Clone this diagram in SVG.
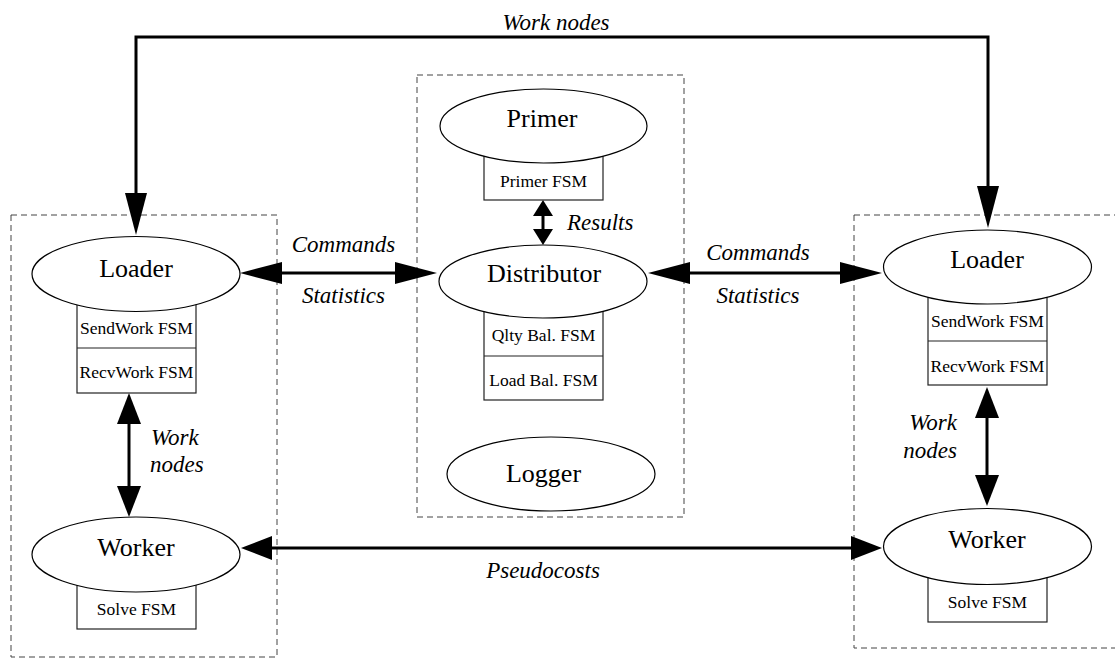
<svg xmlns="http://www.w3.org/2000/svg" width="1115" height="660" viewBox="0 0 1115 660">
  <style>
    .cluster { fill: none; stroke: #444; stroke-width: 1; stroke-dasharray: 6 4; }
    .proc { fill: #fff; stroke: #000; stroke-width: 1.2; }
    .fsm { fill: #fff; stroke: #222; stroke-width: 1.2; }
    .sep { stroke: #222; stroke-width: 1.2; }
    .name { font-family: "Liberation Serif", "Times New Roman", serif; font-size: 26px; fill: #000; text-anchor: middle; }
    .fsmtxt { font-family: "Liberation Serif", "Times New Roman", serif; font-size: 17.5px; fill: #000; text-anchor: middle; }
    .lbl { font-family: "Liberation Serif", "Times New Roman", serif; font-style: italic; font-size: 23px; fill: #000; }
    .wire { fill: none; stroke: #000; stroke-width: 3; }
  </style>
  <defs>
    <marker id="head-l" markerUnits="userSpaceOnUse" viewBox="0 0 42 22" markerWidth="42" markerHeight="22" refX="0" refY="11" orient="auto-start-reverse" overflow="visible">
      <path d="M0,0 L42,11 L0,22 z" fill="#000"/>
    </marker>
    <marker id="head-m" markerUnits="userSpaceOnUse" viewBox="0 0 31 24" markerWidth="31" markerHeight="24" refX="0" refY="12" orient="auto-start-reverse" overflow="visible">
      <path d="M0,0 L31,12 L0,24 z" fill="#000"/>
    </marker>
    <marker id="head-s" markerUnits="userSpaceOnUse" viewBox="0 0 16 20" markerWidth="16" markerHeight="20" refX="0" refY="10" orient="auto-start-reverse" overflow="visible">
      <path d="M0,0 L16,10 L0,20 z" fill="#000"/>
    </marker>
  </defs>

  <rect width="1115" height="660" fill="#fff"/>

  <!-- process clusters -->
  <g id="clusters">
    <rect class="cluster" x="11" y="215" width="266" height="442"/>
    <rect class="cluster" x="417" y="75" width="267" height="442"/>
    <rect class="cluster" x="854" y="215" width="270" height="433"/>
  </g>

  <!-- connectors -->
  <g id="connectors">
    <path class="wire" d="M136,193 V37 H988 V186" marker-start="url(#head-l)" marker-end="url(#head-l)"/>
    <path class="wire" d="M282,273 H395" marker-start="url(#head-l)" marker-end="url(#head-l)"/>
    <path class="wire" d="M690,273 H840" marker-start="url(#head-l)" marker-end="url(#head-l)"/>
    <path class="wire" d="M129,424 V486" marker-start="url(#head-m)" marker-end="url(#head-m)"/>
    <path class="wire" d="M987,418 V475" marker-start="url(#head-m)" marker-end="url(#head-m)"/>
    <path class="wire" d="M272,548 H851" marker-start="url(#head-m)" marker-end="url(#head-m)"/>
    <path class="wire" d="M543,216 V229" marker-start="url(#head-s)" marker-end="url(#head-s)"/>
  </g>

  <!-- left loader -->
  <g id="loader-left">
    <rect class="fsm" x="77" y="303" width="119" height="90"/>
    <line class="sep" x1="77" y1="348" x2="196" y2="348"/>
    <ellipse class="proc" cx="136" cy="274" rx="104" ry="37.5"/>
    <text class="name" x="136" y="277">Loader</text>
    <text class="fsmtxt" x="136.5" y="334">SendWork FSM</text>
    <text class="fsmtxt" x="136.5" y="378">RecvWork FSM</text>
  </g>

  <!-- left worker -->
  <g id="worker-left">
    <rect class="fsm" x="77" y="584" width="119" height="45"/>
    <ellipse class="proc" cx="136" cy="554.5" rx="104" ry="37.5"/>
    <text class="name" x="136" y="556">Worker</text>
    <text class="fsmtxt" x="136.5" y="615">Solve FSM</text>
  </g>

  <!-- primer -->
  <g id="primer">
    <rect class="fsm" x="484" y="155" width="119" height="45"/>
    <ellipse class="proc" cx="543.5" cy="126" rx="103.5" ry="37"/>
    <text class="name" x="542" y="127">Primer</text>
    <text class="fsmtxt" x="543.5" y="187">Primer FSM</text>
  </g>

  <!-- distributor -->
  <g id="distributor">
    <rect class="fsm" x="484" y="311" width="119" height="89"/>
    <line class="sep" x1="484" y1="356" x2="603" y2="356"/>
    <ellipse class="proc" cx="543" cy="281.5" rx="104" ry="36.5"/>
    <text class="name" x="544" y="282">Distributor</text>
    <text class="fsmtxt" x="543.5" y="341">Qlty Bal. FSM</text>
    <text class="fsmtxt" x="543.5" y="386">Load Bal. FSM</text>
  </g>

  <!-- logger -->
  <g id="logger">
    <ellipse class="proc" cx="551" cy="474" rx="104" ry="37"/>
    <text class="name" x="543.5" y="482">Logger</text>
  </g>

  <!-- right loader -->
  <g id="loader-right">
    <rect class="fsm" x="928" y="296" width="119" height="89"/>
    <line class="sep" x1="928" y1="341" x2="1047" y2="341"/>
    <ellipse class="proc" cx="987.5" cy="267" rx="104" ry="37"/>
    <text class="name" x="987" y="268">Loader</text>
    <text class="fsmtxt" x="987.5" y="327">SendWork FSM</text>
    <text class="fsmtxt" x="987.5" y="372">RecvWork FSM</text>
  </g>

  <!-- right worker -->
  <g id="worker-right">
    <rect class="fsm" x="928" y="577" width="119" height="45"/>
    <ellipse class="proc" cx="987.5" cy="546.5" rx="104" ry="38"/>
    <text class="name" x="987" y="548">Worker</text>
    <text class="fsmtxt" x="987.5" y="608">Solve FSM</text>
  </g>

  <!-- connector labels -->
  <g id="labels">
    <text class="lbl" x="556" y="30" text-anchor="middle">Work nodes</text>
    <text class="lbl" x="343.5" y="252" text-anchor="middle">Commands</text>
    <text class="lbl" x="343.5" y="303" text-anchor="middle">Statistics</text>
    <text class="lbl" x="758" y="260" text-anchor="middle">Commands</text>
    <text class="lbl" x="758" y="303" text-anchor="middle">Statistics</text>
    <text class="lbl" x="567" y="230">Results</text>
    <text class="lbl" x="151" y="445">Work</text>
    <text class="lbl" x="150" y="472">nodes</text>
    <text class="lbl" x="957" y="430" text-anchor="end">Work</text>
    <text class="lbl" x="957" y="458" text-anchor="end">nodes</text>
    <text class="lbl" x="543" y="578" text-anchor="middle">Pseudocosts</text>
  </g>
</svg>
